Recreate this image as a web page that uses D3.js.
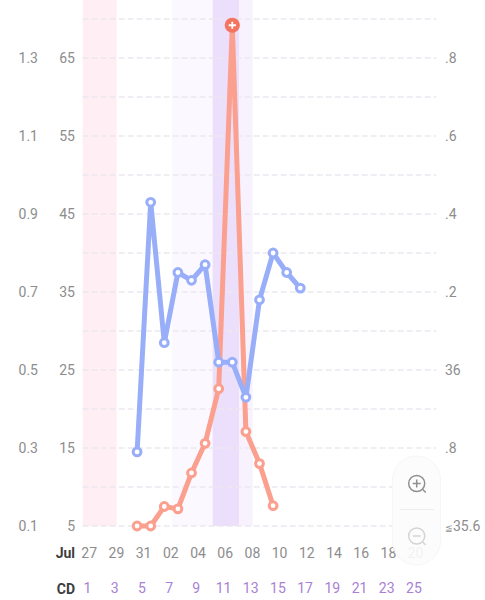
<!DOCTYPE html>
<html>
<head>
<meta charset="utf-8">
<script src="https://cdn.jsdelivr.net/npm/d3@7"></script>
<style>
  html, body { margin: 0; padding: 0; background: #fff; }
  svg { display: block; }
  text { font-family: Roboto, "Noto Sans", sans-serif; }
  .axis text { font-size: 14px; fill: #8d8d8d; }
</style>
</head>
<body>
<svg id="chart" width="485" height="600"></svg>
<script>
const progTicks = [0.1, 0.3, 0.5, 0.7, 0.9, 1.1, 1.3];
const lhTicks = [5, 15, 25, 35, 45, 55, 65];
const gridTicks = [5, 10, 15, 20, 25, 30, 35, 40, 45, 50, 55, 60, 65, 70];
const tempTicks = [35.6, 35.8, 36, 36.2, 36.4, 36.6, 36.8];
const tempLabels = ["35.6", ".8", "36", ".2", ".4", ".6", ".8"];
const dateLabels = ["27", "29", "31", "02", "04", "06", "08", "10", "12", "14", "16", "18", "20"];
const cdLabels = [1, 3, 5, 7, 9, 11, 13, 15, 17, 19, 21, 23, 25];
const lhDays = [5, 6, 7, 8, 9, 10, 11, 12, 13, 14, 15];
const lhValues = [5, 5, 7.5, 7.2, 11.8, 15.6, 22.6, 69.2, 17.1, 13, 7.6];
const progDays = [5, 6, 7, 8, 9, 10, 11, 12, 13, 14, 15, 16, 17];
const progValues = [0.29, 0.93, 0.57, 0.75, 0.73, 0.77, 0.52, 0.52, 0.43, 0.68, 0.8, 0.75, 0.71];
const bands = [
  { from: 1, to: 3.5, color: "#ffeef3" },
  { from: 7.55, to: 10.55, color: "#fbf8ff" },
  { from: 10.55, to: 12.5, color: "#ecdffc" },
  { from: 12.5, to: 13.5, color: "#f7f2fe" }
];

const svg = d3.select("#chart");
const x = d3.scaleLinear().domain([1, 27]).range([82.7, 436.3]);
const yLh = d3.scaleLinear().domain([5, 65]).range([526, 58]);
const yProg = d3.scaleLinear().domain([0.1, 1.3]).range([526, 58]);
const yTemp = d3.scaleLinear().domain([35.6, 36.8]).range([526, 58]);

svg.append("g").selectAll("rect").data(bands).join("rect")
  .attr("x", d => x(d.from))
  .attr("width", d => x(d.to) - x(d.from))
  .attr("y", 0)
  .attr("height", yLh(5))
  .attr("fill", d => d.color);

svg.append("g").selectAll("line").data(gridTicks).join("line")
  .attr("x1", x.range()[0]).attr("x2", x.range()[1])
  .attr("y1", d => yLh(d)).attr("y2", d => yLh(d))
  .attr("stroke", "#ece9ef")
  .attr("stroke-width", 1.3)
  .attr("stroke-dasharray", "6 3");

function drawAxis(scale, values, format, xPos, anchor) {
  const g = svg.append("g").attr("class", "axis");
  return g.selectAll("text").data(values).join("text")
    .attr("x", xPos)
    .attr("y", d => scale(d))
    .attr("dy", "0.36em")
    .attr("text-anchor", anchor)
    .text(format);
}
drawAxis(yProg, progTicks, d => d3.format(".1f")(d), 38, "end");
drawAxis(yLh, lhTicks, d => d, 75, "end");
const tempText = drawAxis(yTemp, tempTicks, (d, i) => tempLabels[i], 445, "start");
// the lowest label carries a narrow "at or below" sign
tempText.filter(d => d === tempTicks[0]).text(null)
  .call(t => t.append("tspan").attr("font-size", 9).text("≦"))
  .call(t => t.append("tspan").text(tempLabels[0]));

function drawSeries(days, values, y, color) {
  const line = d3.line().x((d, i) => x(days[i])).y(d => y(d));
  svg.append("path").datum(values)
    .attr("d", line)
    .attr("fill", "none")
    .attr("stroke", color)
    .attr("stroke-width", 5)
    .attr("stroke-linejoin", "round");
  svg.append("g").selectAll("circle").data(values).join("circle")
    .attr("cx", (d, i) => x(days[i]))
    .attr("cy", d => y(d))
    .attr("r", 3.9)
    .attr("fill", "#fff")
    .attr("stroke", color)
    .attr("stroke-width", 3);
}
drawSeries(lhDays, lhValues, yLh, "#fb9f8e");
drawSeries(progDays, progValues, yProg, "#99aef8");

// LH peak marker
const peak = d3.greatest(lhValues);
const peakDay = lhDays[lhValues.indexOf(peak)];
const peakG = svg.append("g").attr("transform", `translate(${x(peakDay)},${yLh(peak)})`);
peakG.append("circle").attr("r", 7.6).attr("fill", "#f4755f");
peakG.append("path").attr("d", "M-3.6,0H3.6M0,-3.6V3.6").attr("stroke", "#fff").attr("stroke-width", 1.8);

// bottom rows
svg.append("text").attr("x", 75).attr("y", 558).attr("text-anchor", "end")
  .attr("font-size", 14).attr("font-weight", 700).attr("fill", "#3d3d3d").text("Jul");
svg.append("text").attr("x", 75).attr("y", 593.5).attr("text-anchor", "end")
  .attr("font-size", 14).attr("font-weight", 700).attr("fill", "#3d3d3d").text("CD");
svg.append("g").selectAll("text").data(dateLabels).join("text")
  .attr("x", (d, i) => x(1 + i * 2) + 6.5).attr("y", 558).attr("text-anchor", "middle")
  .attr("font-size", 14).attr("fill", "#8d8d8d").text(d => d);
svg.append("g").selectAll("text").data(cdLabels).join("text")
  .attr("x", (d, i) => x(1 + i * 2) + 4.8).attr("y", 593).attr("text-anchor", "middle")
  .attr("font-size", 14).attr("fill", "#a981d4").text(d => d);

// zoom control, translucent over the chart
const zoomBox = svg.append("g");
zoomBox.append("rect")
  .attr("x", 392.5).attr("y", 456).attr("width", 48).attr("height", 109).attr("rx", 24)
  .attr("fill", "#fcfcfc").attr("fill-opacity", 0.9)
  .attr("stroke", "#f6f6f6");
zoomBox.append("line").attr("x1", 400).attr("x2", 434).attr("y1", 509.5).attr("y2", 509.5).attr("stroke", "#eeeeee");
function zoomIcon(cy, plus, color) {
  const g = zoomBox.append("g").attr("transform", `translate(416.7,${cy})`)
    .attr("fill", "none").attr("stroke", color).attr("stroke-width", 1.5);
  g.append("circle").attr("r", 8);
  g.append("path").attr("d", "M6,6L9,9");
  g.append("path").attr("d", plus ? "M-4,0H4M0,-4V4" : "M-4,0H4");
}
zoomIcon(483.5, true, "#8f8f8f");
zoomIcon(536, false, "#d4d4d4");
</script>
</body>
</html>
